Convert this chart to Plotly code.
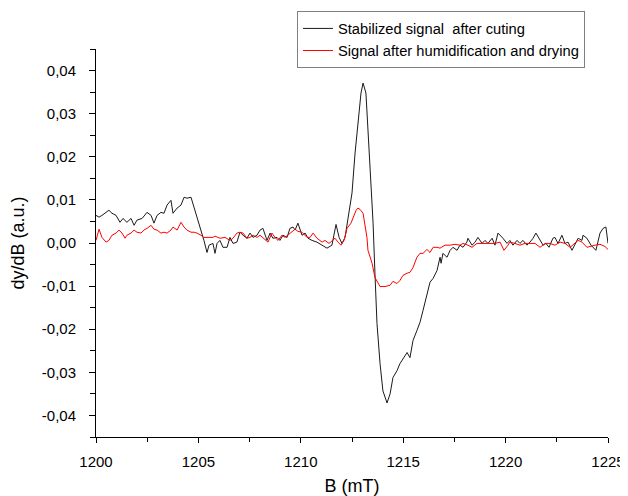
import plotly.graph_objects as go

# Black series: Stabilized signal after cuting
b_black = [1200.00, 1200.15, 1200.29, 1200.63, 1200.78, 1200.98, 1201.17, 1201.32, 1201.51, 1201.71,
           1201.86, 1202.00, 1202.25, 1202.49, 1202.69, 1202.83, 1202.98, 1203.17, 1203.32, 1203.47,
           1203.66, 1203.76, 1203.96, 1204.15, 1204.30, 1204.44, 1204.64, 1204.79, 1204.93, 1205.13,
           1205.27, 1205.42, 1205.52, 1205.71, 1205.81, 1205.91, 1206.05, 1206.20, 1206.40, 1206.54,
           1206.69, 1206.88, 1207.03, 1207.18, 1207.37, 1207.52, 1207.67, 1207.86, 1208.01, 1208.15,
           1208.35, 1208.50, 1208.64, 1208.84, 1208.98, 1209.13, 1209.33, 1209.47, 1209.62, 1209.72,
           1209.86, 1210.06, 1210.21, 1210.35, 1210.55, 1210.79, 1211.04, 1211.28, 1211.52, 1211.72,
           1211.87, 1212.01, 1212.16, 1212.30, 1212.50, 1212.65, 1212.79, 1212.94, 1213.04, 1213.18,
           1213.28, 1213.43, 1213.53, 1213.62, 1213.72, 1213.87, 1214.01, 1214.21, 1214.36, 1214.50,
           1214.70, 1214.84, 1214.99, 1215.19, 1215.33, 1215.48, 1215.67, 1215.82, 1215.97, 1216.16,
           1216.31, 1216.46, 1216.65, 1216.80, 1216.85, 1216.94, 1217.14, 1217.29, 1217.43, 1217.63,
           1217.77, 1217.92, 1218.11, 1218.16, 1218.36, 1218.51, 1218.65, 1218.85, 1218.99, 1219.14,
           1219.34, 1219.48, 1219.63, 1219.87, 1220.07, 1220.21, 1220.36, 1220.56, 1220.70, 1220.85,
           1221.04, 1221.19, 1221.34, 1221.48, 1221.63, 1221.83, 1221.97, 1222.12, 1222.31, 1222.41,
           1222.56, 1222.75, 1222.90, 1223.05, 1223.24, 1223.39, 1223.54, 1223.73, 1223.78, 1223.97,
           1224.17, 1224.41, 1224.61, 1224.76, 1224.90, 1225.00]
y_black = [0.0064, 0.0060, 0.0064, 0.0076, 0.0069, 0.0064, 0.0048, 0.0057, 0.0048, 0.0057,
           0.0041, 0.0053, 0.0057, 0.0071, 0.0064, 0.0046, 0.0064, 0.0071, 0.0069, 0.0088,
           0.0099, 0.0069, 0.0081, 0.0088, 0.0106, 0.0104, 0.0106, 0.0083, 0.0060, 0.0030,
           0.0006, -0.0022, -0.0005, -0.0001, -0.0024, -0.0001, 0.0006, -0.0010, -0.0010, 0.0013,
           -0.0001, 0.0002, 0.0025, 0.0018, 0.0011, 0.0023, 0.0013, 0.0018, 0.0030, 0.0034,
           0.0006, 0.0023, 0.0011, 0.0013, 0.0006, 0.0018, 0.0013, 0.0034, 0.0037, 0.0030,
           0.0046, 0.0018, 0.0023, 0.0011, 0.0006, 0.0002, -0.0005, -0.0012, -0.0005, 0.0043,
           0.0013, -0.0001, 0.0013, 0.0060, 0.0116, 0.0209, 0.0285, 0.0348, 0.0371, 0.0348,
           0.0262, 0.0130, 0.0046, -0.0070, -0.0187, -0.0280, -0.0343, -0.0371, -0.0350, -0.0312,
           -0.0296, -0.0280, -0.0268, -0.0254, -0.0266, -0.0226, -0.0203, -0.0184, -0.0156, -0.0117,
           -0.0091, -0.0082, -0.0064, -0.0033, -0.0047, -0.0024, -0.0033, -0.0017, -0.0010, -0.0017,
           -0.0005, -0.0010, 0.0002, 0.0011, -0.0005, 0.0002, 0.0013, -0.0001, 0.0006, -0.0001,
           0.0011, -0.0005, 0.0023, 0.0011, -0.0001, 0.0006, -0.0005, 0.0006, -0.0001, 0.0006,
           -0.0005, 0.0002, 0.0011, 0.0023, 0.0011, -0.0005, -0.0001, -0.0010, 0.0011, 0.0013,
           -0.0001, 0.0018, -0.0001, 0.0002, -0.0017, -0.0001, 0.0011, 0.0006, 0.0018, 0.0011,
           -0.0005, -0.0017, 0.0023, 0.0034, 0.0037, -0.0001]

# Red series: Signal after humidification and drying
b_red = [1200.00, 1200.15, 1200.29, 1200.49, 1200.63, 1200.78, 1200.98, 1201.12, 1201.27, 1201.42,
         1201.51, 1201.71, 1201.86, 1202.00, 1202.20, 1202.34, 1202.49, 1202.69, 1202.83, 1202.98,
         1203.17, 1203.32, 1203.47, 1203.66, 1203.76, 1203.96, 1204.15, 1204.30, 1204.44, 1204.64,
         1204.79, 1204.93, 1205.13, 1205.27, 1205.52, 1205.71, 1205.81, 1206.05, 1206.30, 1206.54,
         1206.69, 1206.88, 1207.03, 1207.18, 1207.37, 1207.52, 1207.67, 1207.86, 1208.01, 1208.15,
         1208.40, 1208.59, 1208.74, 1208.89, 1209.08, 1209.23, 1209.47, 1209.72, 1209.86, 1210.06,
         1210.30, 1210.45, 1210.60, 1210.79, 1211.04, 1211.18, 1211.38, 1211.52, 1211.67, 1211.82,
         1211.96, 1212.11, 1212.26, 1212.45, 1212.55, 1212.70, 1212.79, 1212.89, 1213.04, 1213.23,
         1213.28, 1213.48, 1213.62, 1213.87, 1214.11, 1214.36, 1214.50, 1214.70, 1214.84, 1214.99,
         1215.19, 1215.33, 1215.48, 1215.67, 1215.82, 1215.97, 1216.16, 1216.31, 1216.46, 1216.65,
         1216.80, 1217.04, 1217.29, 1217.53, 1217.77, 1217.92, 1218.16, 1218.36, 1218.60, 1218.90,
         1219.24, 1219.48, 1219.73, 1219.92, 1220.12, 1220.21, 1220.46, 1220.70, 1220.95, 1221.19,
         1221.44, 1221.68, 1221.93, 1222.17, 1222.41, 1222.66, 1222.90, 1223.15, 1223.39, 1223.54,
         1223.73, 1223.97, 1224.37, 1224.61, 1224.85, 1225.00]
y_red = [0.0006, 0.0032, 0.0013, 0.0002, 0.0006, 0.0018, 0.0023, 0.0030, 0.0023, 0.0011,
         0.0018, 0.0023, 0.0030, 0.0025, 0.0023, 0.0030, 0.0034, 0.0041, 0.0032, 0.0030,
         0.0023, 0.0025, 0.0023, 0.0030, 0.0037, 0.0030, 0.0048, 0.0037, 0.0030, 0.0025,
         0.0025, 0.0023, 0.0018, 0.0013, 0.0013, 0.0013, 0.0016, 0.0011, 0.0013, 0.0006,
         0.0011, 0.0023, 0.0025, 0.0023, 0.0011, 0.0013, 0.0018, 0.0013, 0.0018, 0.0013,
         0.0002, 0.0023, 0.0013, 0.0006, 0.0018, 0.0013, 0.0023, 0.0032, 0.0027, 0.0025,
         0.0013, 0.0013, 0.0023, 0.0011, 0.0002, 0.0006, -0.0001, 0.0006, 0.0011, 0.0002,
         -0.0005, 0.0006, 0.0034, 0.0046, 0.0060, 0.0076, 0.0081, 0.0078, 0.0069, 0.0013,
         -0.0017, -0.0047, -0.0080, -0.0101, -0.0101, -0.0098, -0.0089, -0.0094, -0.0087, -0.0075,
         -0.0070, -0.0068, -0.0057, -0.0033, -0.0024, -0.0024, -0.0015, -0.0022, -0.0010, -0.0010,
         -0.0012, -0.0005, -0.0005, -0.0003, -0.0005, -0.0001, -0.0005, -0.0010, -0.0001, -0.0001,
         -0.0001, -0.0001, 0.0002, -0.0017, -0.0005, 0.0002, -0.0001, -0.0005, -0.0001, -0.0001,
         -0.0001, -0.0010, -0.0001, -0.0001, -0.0005, 0.0002, -0.0001, -0.0010, -0.0001, 0.0006,
         0.0002, -0.0010, -0.0005, -0.0003, -0.0008, -0.0015]

x_ticks = [1200, 1205, 1210, 1215, 1220, 1225]
y_ticks = [-0.04, -0.03, -0.02, -0.01, 0.0, 0.01, 0.02, 0.03, 0.04]
y_tick_labels = ["-0,04", "-0,03", "-0,02", "-0,01", "0,00", "0,01", "0,02", "0,03", "0,04"]

FONT = "Liberation Sans, Arial, Helvetica, sans-serif"

fig = go.Figure()
fig.add_trace(go.Scatter(x=b_black, y=y_black, mode="lines", name="Stabilized signal  after cuting",
                         line=dict(color="#1a1a1a", width=1)))
fig.add_trace(go.Scatter(x=b_red, y=y_red, mode="lines", name="Signal after humidification and drying",
                         line=dict(color="#ff0000", width=1)))

# page body adds an 8px offset; plot area placed to match the 628x496 window
fig.update_layout(
    width=628, height=488,
    margin=dict(l=88, r=28, t=41, b=59, autoexpand=False),
    paper_bgcolor="white", plot_bgcolor="white",
    font=dict(family=FONT, color="black"),
    legend=dict(x=0.3925, y=1.097, xanchor="left", yanchor="top",
                bordercolor="#808080", borderwidth=1, bgcolor="white",
                font=dict(size=14.7, family=FONT), tracegroupgap=0),
    xaxis=dict(range=[1200, 1225], tickvals=x_ticks, showgrid=False, zeroline=False,
               showline=True, linecolor="black", linewidth=1, automargin=False,
               ticks="outside", ticklen=5, tickcolor="black", ticklabelstandoff=6,
               minor=dict(ticks="outside", dtick=2.5, ticklen=4, tickcolor="black"),
               tickfont=dict(size=15, family=FONT),
               title=dict(text="B (mT)", font=dict(size=18, family=FONT), standoff=10)),
    yaxis=dict(range=[-0.045, 0.045], tickvals=y_ticks, ticktext=y_tick_labels,
               showgrid=False, zeroline=False, automargin=False,
               showline=True, linecolor="black", linewidth=1,
               ticks="outside", ticklen=6, tickcolor="black", ticklabelstandoff=10,
               minor=dict(ticks="outside", dtick=0.005, tick0=0, ticklen=5, tickcolor="black"),
               tickfont=dict(size=15, family=FONT),
               title=dict(text="dy/dB (a.u.)", font=dict(size=18, family=FONT), standoff=12)),
)

fig.write_html("out.html")
